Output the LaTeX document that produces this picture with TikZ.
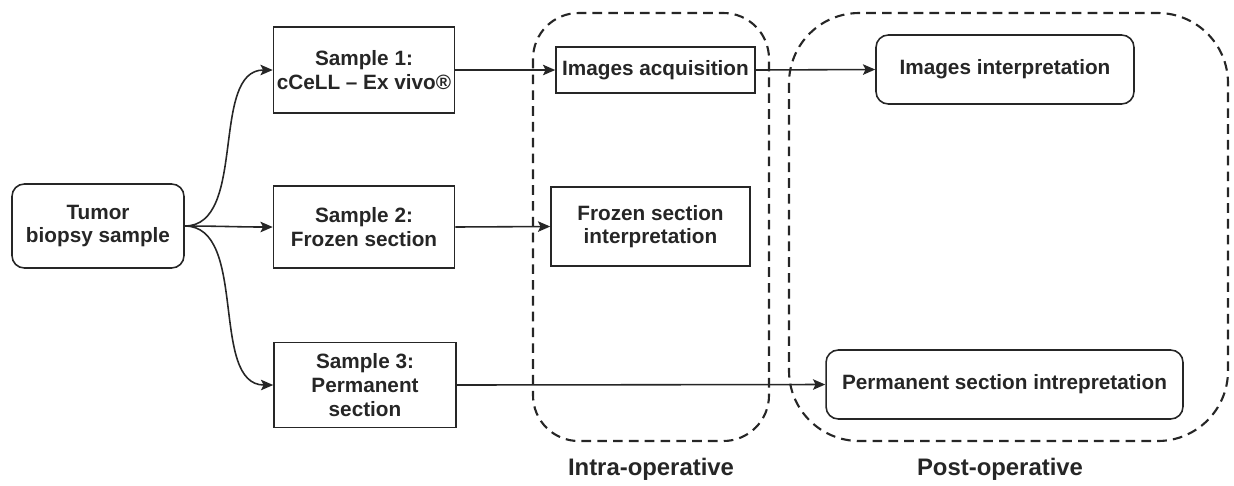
\documentclass[tikz,border=0pt]{standalone}
\usepackage{fontspec}
\setmainfont{Liberation Sans}
\usetikzlibrary{arrows.meta}
\definecolor{ink}{HTML}{262626}
\begin{document}
\begin{tikzpicture}[x=0.02cm,y=-0.02cm,
  every node/.style={font=\bfseries\fontsize{11.8}{13.5}\selectfont, text=ink, align=center},
  box/.style={draw=ink, line width=0.9pt, inner sep=0pt},
  rbox/.style={box, rounded corners=7pt},
  zone/.style={draw=ink, line width=1.2pt, dash pattern=on 5.5pt off 3.5pt},
  arr/.style={draw=ink, line width=0.9pt, -{Stealth[length=7pt,width=6pt,inset=1.5pt]}},
  lbl/.style={font=\bfseries\fontsize{13.6}{15}\selectfont}]
\useasboundingbox (0,0) rectangle (1234,485);
% zones
\draw[zone, rounded corners=26pt] (533,13) rectangle (769,441);
\draw[zone, rounded corners=40pt] (789,13) rectangle (1228,441);
% nodes
\node[rbox, minimum width=3.44cm, minimum height=1.68cm] (tumor) at (98,226) {Tumor\\biopsy sample};
\node[box, minimum width=3.62cm, minimum height=1.72cm] (s1) at (364,70) {Sample 1:\\cCeLL -- Ex vivo®};
\node[box, minimum width=3.62cm, minimum height=1.64cm] (s2) at (364,227) {Sample 2:\\Frozen section};
\node[box, minimum width=3.64cm, minimum height=1.70cm] (s3) at (365,385) {Sample 3:\\Permanent\\section};
\node[box, minimum width=3.98cm, minimum height=0.92cm] (ia) at (655.5,70) {Images acquisition};
\node[box, minimum width=3.98cm, minimum height=1.58cm] (fi) at (650.5,226.5) {Frozen section\\interpretation};
\node[rbox, minimum width=5.16cm, minimum height=1.38cm] (ii) at (1005,69.5) {Images interpretation};
\node[rbox, minimum width=7.14cm, minimum height=1.38cm] (pi) at (1004.5,384.5) {Permanent section intrepretation};
% labels
\node[lbl] (intra) at (651,469) {Intra-operative};
\node[lbl] (post) at (1000,469) {Post-operative};
% connectors
\draw[arr] (tumor.east) to[out=0,in=180,looseness=0.9] (s1.west);
\draw[arr] (tumor.east) to[out=0,in=180] (s2.west);
\draw[arr] (tumor.east) to[out=0,in=180,looseness=0.9] (s3.west);
\draw[arr] (s1.east) -- (ia.west);
\draw[arr] (ia.east) -- (ii.west);
\draw[arr] (s2.east) -- (fi.west);
\draw[arr] (s3.east) -- (pi.west);
\end{tikzpicture}
\end{document}
